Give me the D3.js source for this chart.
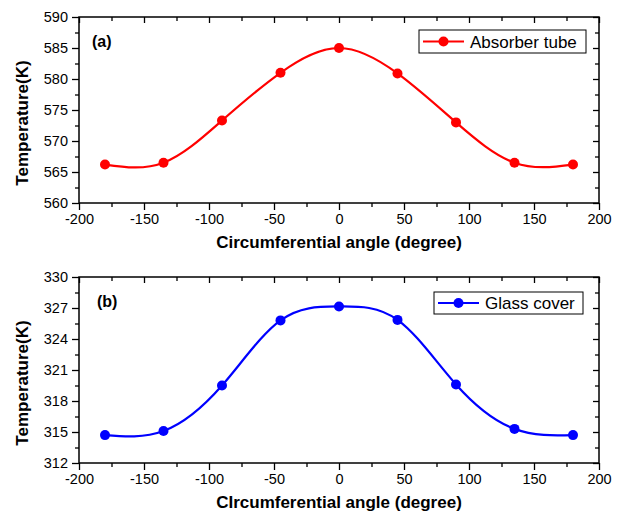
<!DOCTYPE html>
<html>
<head>
<meta charset="utf-8">
<script src="https://cdn.jsdelivr.net/npm/d3@7"></script>
<style>
  html, body { margin: 0; padding: 0; background: #fff; }
  svg { display: block; }
  text { font-family: "Liberation Sans", Arial, sans-serif; fill: #000; }
</style>
</head>
<body>
<svg id="chart" width="625" height="513"></svg>
<script>
// Circumferential angle positions (degree)
const angles = [-180, -135, -90, -45, 0, 45, 90, 135, 180];
// Absorber tube temperature (K)
const absorberTemps = [566.2, 566.5, 573.3, 581.0, 585.0, 580.9, 573.0, 566.5, 566.2];
// Glass cover temperature (K)
const glassTemps = [314.7, 315.1, 319.5, 325.8, 327.15, 325.85, 319.6, 315.3, 314.7];

const xTicks = [-200, -150, -100, -50, 0, 50, 100, 150, 200];
const xMinorTicks = [-175, -125, -75, -25, 25, 75, 125, 175];
const yTicksA = [560, 565, 570, 575, 580, 585, 590];
const yMinorA = [562.5, 567.5, 572.5, 577.5, 582.5, 587.5];
const yTicksB = [312, 315, 318, 321, 324, 327, 330];
const yMinorB = [313.5, 316.5, 319.5, 322.5, 325.5, 328.5];

const svg = d3.select("#chart");
// plain hyphen-minus for negative tick labels
const plain = d => String(d);

function drawPanel(opts) {
  const { top, bottom, left, right, yDomain, yTicks, yMinor, values, color,
          label, labelX, legendText, legendBox, xTitle } = opts;

  const x = d3.scaleLinear().domain([-200, 200]).range([left, right]);
  const y = d3.scaleLinear().domain(yDomain).range([bottom, top]);
  const g = svg.append("g");

  const styleAxis = sel => {
    sel.select(".domain").remove();
    sel.selectAll("line").attr("stroke", "#000").attr("stroke-width", 1.3);
  };
  const styleLabels = sel => sel.selectAll("text")
    .attr("font-size", 14.5).attr("fill", "#000")
    .attr("font-family", "Liberation Sans, Arial, sans-serif");

  // bottom axis: ticks point outward, labelled
  g.append("g").attr("transform", `translate(0,${bottom})`)
    .call(d3.axisBottom(x).tickValues(xTicks).tickFormat(plain).tickSize(7).tickSizeOuter(0).tickPadding(4))
    .call(styleAxis).call(styleLabels);
  g.append("g").attr("transform", `translate(0,${bottom})`)
    .call(d3.axisBottom(x).tickValues(xMinorTicks).tickSize(4).tickFormat(""))
    .call(styleAxis);

  // top mirror axis: ticks point into the plot
  g.append("g").attr("transform", `translate(0,${top})`)
    .call(d3.axisTop(x).tickValues(xTicks).tickSize(-6).tickFormat(""))
    .call(styleAxis);
  g.append("g").attr("transform", `translate(0,${top})`)
    .call(d3.axisTop(x).tickValues(xMinorTicks).tickSize(-4).tickFormat(""))
    .call(styleAxis);

  // left axis: ticks point outward, labelled
  g.append("g").attr("transform", `translate(${left},0)`)
    .call(d3.axisLeft(y).tickValues(yTicks).tickFormat(plain).tickSize(7).tickSizeOuter(0).tickPadding(4))
    .call(styleAxis).call(styleLabels);
  g.append("g").attr("transform", `translate(${left},0)`)
    .call(d3.axisLeft(y).tickValues(yMinor).tickSize(4).tickFormat(""))
    .call(styleAxis);

  // right mirror axis: ticks point into the plot
  g.append("g").attr("transform", `translate(${right},0)`)
    .call(d3.axisRight(y).tickValues(yTicks).tickSize(-6).tickFormat(""))
    .call(styleAxis);
  g.append("g").attr("transform", `translate(${right},0)`)
    .call(d3.axisRight(y).tickValues(yMinor).tickSize(-4).tickFormat(""))
    .call(styleAxis);

  // frame
  g.append("rect")
    .attr("x", left).attr("y", top)
    .attr("width", right - left).attr("height", bottom - top)
    .attr("fill", "none").attr("stroke", "#000").attr("stroke-width", 1.5);

  // smooth curve through the points
  const pts = angles.map((a, i) => [a, values[i]]);
  const line = d3.line().x(d => x(d[0])).y(d => y(d[1])).curve(d3.curveNatural);
  g.append("path").datum(pts)
    .attr("d", line)
    .attr("fill", "none").attr("stroke", color).attr("stroke-width", 2.2);

  g.selectAll("circle.pt").data(pts).join("circle")
    .attr("class", "pt")
    .attr("cx", d => x(d[0])).attr("cy", d => y(d[1]))
    .attr("r", 5).attr("fill", color);

  // panel label
  g.append("text").attr("x", labelX).attr("y", top + 30)
    .attr("font-size", 16).attr("font-weight", "bold").text(label);

  // legend
  const lb = legendBox;
  g.append("rect").attr("x", lb.x).attr("y", lb.y).attr("width", lb.w).attr("height", lb.h)
    .attr("fill", "#fff").attr("stroke", "#000").attr("stroke-width", 1);
  const cy = lb.y + lb.h / 2;
  g.append("line").attr("x1", lb.x + 4).attr("x2", lb.x + 45).attr("y1", cy).attr("y2", cy)
    .attr("stroke", color).attr("stroke-width", 2.2);
  g.append("circle").attr("cx", lb.x + 24.5).attr("cy", cy).attr("r", 5).attr("fill", color);
  g.append("text").attr("x", lb.x + 51).attr("y", cy + 6)
    .attr("font-size", 17).text(legendText);

  // axis titles
  g.append("text")
    .attr("x", (left + right) / 2).attr("y", bottom + 45)
    .attr("text-anchor", "middle").attr("font-size", 17).attr("font-weight", "bold")
    .text(xTitle);
  g.append("text")
    .attr("transform", `translate(28,${(top + bottom) / 2 + 13}) rotate(-90)`)
    .attr("text-anchor", "middle").attr("font-size", 17).attr("font-weight", "bold")
    .text("Temperature(K)");
}

drawPanel({
  top: 17, bottom: 203, left: 79, right: 599,
  yDomain: [560, 590], yTicks: yTicksA, yMinor: yMinorA,
  values: absorberTemps, color: "#ff0000",
  label: "(a)", labelX: 92,
  legendText: "Absorber tube",
  legendBox: { x: 419, y: 30, w: 167, h: 23 },
  xTitle: "Circumferential angle (degree)"
});

drawPanel({
  top: 277, bottom: 463, left: 79, right: 599,
  yDomain: [312, 330], yTicks: yTicksB, yMinor: yMinorB,
  values: glassTemps, color: "#0000ff",
  label: "(b)", labelX: 97,
  legendText: "Glass cover",
  legendBox: { x: 434, y: 292, w: 149, h: 22 },
  xTitle: "CIrcumferential angle (degree)"
});
</script>
</body>
</html>
